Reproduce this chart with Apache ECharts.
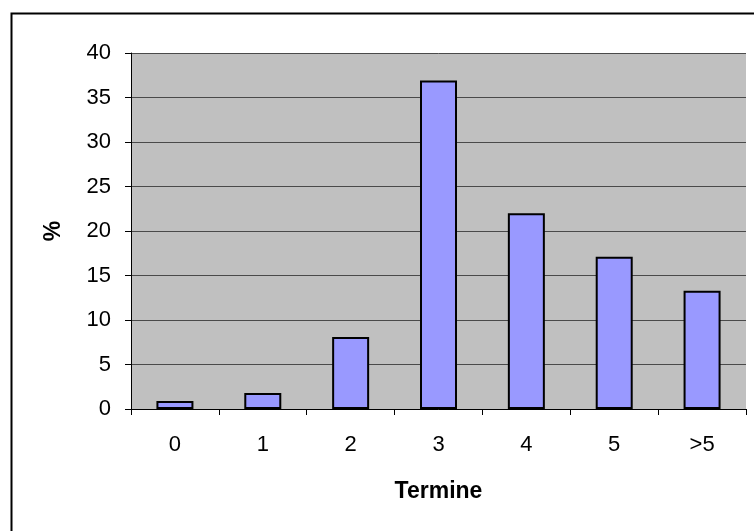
<!DOCTYPE html>
<html>
<head>
<meta charset="utf-8">
<script src="https://cdn.jsdelivr.net/npm/echarts@6/dist/echarts.min.js"></script>
<style>
  html, body { margin: 0; padding: 0; background: #fff; }
  #chart { width: 754px; height: 531px; }
</style>
</head>
<body>
<div id="chart"></div>
<script>
// Daten
const categories = ["0", "1", "2", "3", "4", "5", ">5"]
const percentValues = [0.9, 1.8, 8.1, 36.9, 22.0, 17.1, 13.3]
const yTicks = { min: 0, max: 40, step: 5 }

const font = "Liberation Sans, Arial, sans-serif"
const chart = echarts.init(document.getElementById("chart"))

const option = {
  animation: false,
  backgroundColor: "#fff",
  // Rahmen um das ganze Diagramm
  graphic: [
    {
      type: "rect",
      left: 9,
      top: 11,
      shape: { x: 0, y: 0, width: 760, height: 540 },
      style: { fill: "none", stroke: "#000", lineWidth: 2 },
      silent: true,
    },
  ],
  grid: {
    left: 131,
    right: 8,
    top: 53,
    bottom: 122,
    show: true,
    backgroundColor: "#c0c0c0",
    borderWidth: 0,
  },
  xAxis: {
    type: "category",
    data: categories,
    name: "Termine",
    nameLocation: "middle",
    nameGap: 71,
    nameTextStyle: { fontFamily: font, fontSize: 23, fontWeight: "bold", color: "#000" },
    axisLine: { lineStyle: { color: "#000", width: 1 } },
    axisTick: { show: true, alignWithLabel: false, length: 6, lineStyle: { color: "#000" } },
    axisLabel: { fontFamily: font, fontSize: 22, color: "#000", margin: 25 },
  },
  yAxis: {
    type: "value",
    min: yTicks.min,
    max: yTicks.max,
    interval: yTicks.step,
    name: "%",
    nameLocation: "middle",
    nameGap: 66,
    nameRotate: 90,
    nameTextStyle: { fontFamily: font, fontSize: 23, fontWeight: "bold", color: "#000" },
    axisLine: { show: true, lineStyle: { color: "#000", width: 1 } },
    axisTick: { show: true, length: 6, lineStyle: { color: "#000" } },
    axisLabel: { fontFamily: font, fontSize: 22, color: "#000", margin: 20 },
    splitLine: { show: true, lineStyle: { color: "#4a4a4a", width: 1 } },
  },
  series: [
    {
      type: "bar",
      data: percentValues,
      barWidth: 37,
      itemStyle: { color: "#9999ff", borderColor: "#000", borderWidth: 2 },
    },
  ],
}

chart.setOption(option)
</script>
</body>
</html>
